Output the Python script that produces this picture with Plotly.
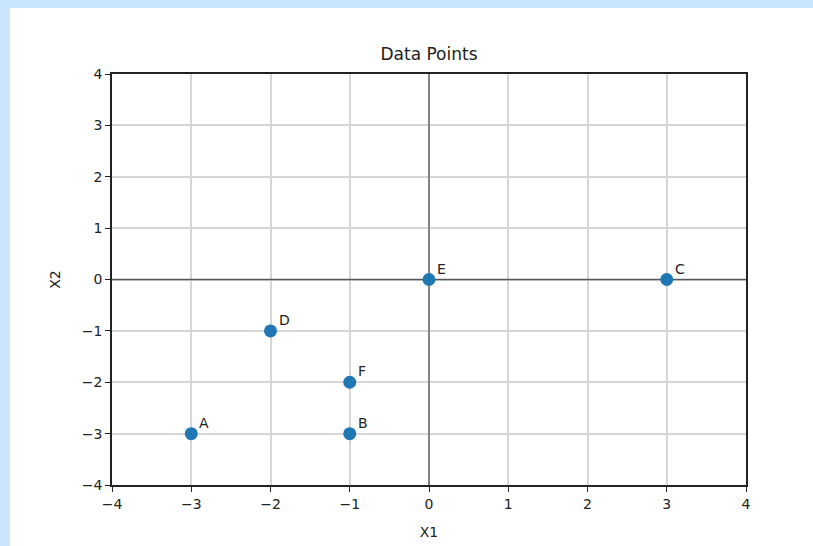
import plotly.graph_objects as go

labels = ["A", "B", "C", "D", "E", "F"]
x_vals = [-3, -1, 3, -2, 0, -1]
y_vals = [-3, -3, 0, -1, 0, -2]
tick_vals = [-4, -3, -2, -1, 0, 1, 2, 3, 4]

W, H = 813, 546
L, R, T, B = 112, 746, 74, 485
pw, ph = R - L, B - T

fig = go.Figure()
fig.add_trace(go.Scatter(
    x=x_vals, y=y_vals, mode="markers",
    marker=dict(color="#1f77b4", size=13, line=dict(width=0)),
    hoverinfo="skip", showlegend=False,
))

for lab, xv, yv in zip(labels, x_vals, y_vals):
    fig.add_annotation(x=xv, y=yv, text=lab, showarrow=False,
                       xanchor="left", yanchor="middle", xshift=6, yshift=11,
                       font=dict(family="DejaVu Sans", size=14, color="#222222"))

# white figure area over light-blue page
fig.add_shape(type="rect", xref="paper", yref="paper",
              x0=(10 - L) / pw, x1=1.3, y0=-0.3, y1=(B - 8) / ph,
              fillcolor="white", line=dict(width=0), layer="below")
# zero lines
fig.add_shape(type="line", xref="x", yref="y", x0=-4, x1=4, y0=0, y1=0,
              line=dict(color="rgba(0,0,0,0.6)", width=1.3), layer="between")
fig.add_shape(type="line", xref="x", yref="y", x0=0, x1=0, y0=-4, y1=4,
              line=dict(color="rgba(0,0,0,0.6)", width=1.3), layer="between")

axis_common = dict(
    range=[-4, 4], tickmode="array", tickvals=tick_vals,
    ticktext=[("\u2212" + str(-v)) if v < 0 else str(v) for v in tick_vals],
    showgrid=True, gridcolor="#d6d6d6", gridwidth=2,
    zeroline=False, showline=True, linecolor="#222222", linewidth=1.5, mirror=True,
    ticks="outside", ticklen=5, tickwidth=1.2, tickcolor="#222222",
    tickfont=dict(family="DejaVu Sans", size=14, color="#222222"),
    fixedrange=True, automargin=False,
)

fig.update_layout(
    width=W, height=H,
    margin=dict(l=L, r=W - R, t=T, b=H - B),
    paper_bgcolor="#c9e5fd", plot_bgcolor="white",
    title=dict(text="Data Points", x=0.5, xref="paper", xanchor="center",
               y=1 - 54 / H, yanchor="middle",
               font=dict(family="DejaVu Sans", size=17, color="#222222")),
    xaxis=dict(axis_common, title=dict(text="X1", standoff=17,
               font=dict(family="DejaVu Sans", size=14, color="#222222"))),
    yaxis=dict(axis_common, title=dict(text="X2", standoff=18,
               font=dict(family="DejaVu Sans", size=14, color="#222222"))),
)

fig.write_html("out.html", config={"displayModeBar": False},
               post_script="document.body.style.margin='0';document.body.style.padding='0';")
